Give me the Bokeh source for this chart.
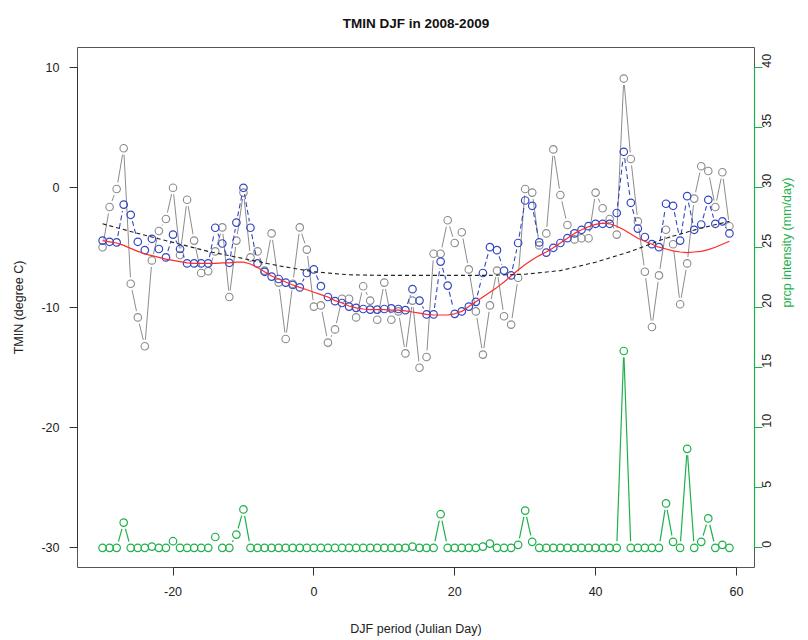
import math
import numpy as np
from bokeh.plotting import figure
from bokeh.models import Range1d, LinearAxis, FixedTicker, ColumnDataSource, PrintfTickFormatter
from bokeh.embed import file_html
from bokeh.resources import INLINE

# ---------------- data ----------------
days = list(range(-30, 60))

tmin_obs = [-4.95, -1.6, -0.1, 3.3, -8.0, -10.8, -13.2, -6.05, -3.6, -2.6,
            0.0, -5.6, -1.0, -4.4, -7.1, -6.95, -5.3, -3.3, -9.1, -4.4,
            -0.4, -5.8, -5.3, -6.9, -3.8, -7.9, -12.6, -8.0, -3.3, -5.15,
            -9.9, -9.8, -12.9, -11.8, -9.25, -9.25, -10.8, -8.2, -9.4, -11.0,
            -7.9, -11.0, -10.3, -13.8, -9.4, -15.0, -14.1, -5.5, -5.5, -2.7,
            -4.6, -3.7, -6.8, -10.3, -13.9, -9.8, -6.9, -10.7, -11.4, -7.5,
            -0.1, -0.4, -4.8, -3.8, 3.2, -0.6, -3.1, -4.3, -4.2, -4.2,
            -0.4, -1.7, -2.6, -3.9, 9.1, 2.4, -2.8, -7.0, -11.6, -7.3,
            -3.5, -4.7, -9.7, -6.3, -0.9, 1.8, 1.4, -1.6, 1.3, -3.2]

tmin_adj = [-4.4, -4.5, -4.55, -1.4, -2.25, -4.5, -5.2, -4.25, -5.1, -5.8,
            -3.9, -5.1, -6.3, -6.3, -6.3, -6.3, -3.33, -4.64, -6.25, -2.9,
            0.0, -3.33, -6.3, -7.0, -7.4, -7.6, -7.9, -8.1, -8.3, -7.1,
            -6.8, -8.2, -9.1, -9.45, -9.6, -9.9, -10.0, -10.1, -10.15, -10.15,
            -10.1, -10.05, -10.1, -10.2, -8.45, -9.4, -10.55, -10.55, -6.15, -8.15,
            -10.5, -10.3, -9.9, -9.5, -7.1, -4.95, -5.2, -6.9, -7.3, -4.6,
            -1.06, -1.5, -4.55, -5.4, -5.0, -4.6, -4.2, -3.8, -3.5, -3.2,
            -3.0, -3.0, -3.0, -2.1, 3.0, -1.25, -3.4, -4.1, -4.7, -4.95,
            -1.33, -1.5, -4.4, -0.7, -3.5, -3.06, -1.0, -3.0, -2.8, -3.8]

tmin_smooth = [-4.4, -4.5, -4.6, -4.8, -5.05, -5.3, -5.5, -5.65, -5.8, -5.95,
               -6.05, -6.15, -6.25, -6.3, -6.3, -6.3, -6.3, -6.25, -6.25, -6.2,
               -6.2, -6.35, -6.65, -7.0, -7.35, -7.6, -7.85, -8.1, -8.3, -8.5,
               -8.7, -8.9, -9.1, -9.4, -9.6, -9.85, -10.0, -10.1, -10.15, -10.15,
               -10.15, -10.2, -10.2, -10.25, -10.35, -10.45, -10.55, -10.6, -10.6, -10.6,
               -10.5, -10.3, -9.9, -9.5, -9.1, -8.7, -8.3, -7.85, -7.35, -6.85,
               -6.4, -6.0, -5.65, -5.35, -5.0, -4.6, -4.2, -3.8, -3.5, -3.25,
               -3.05, -2.95, -3.0, -3.2, -3.5, -3.85, -4.2, -4.45, -4.7, -4.95,
               -5.1, -5.25, -5.35, -5.4, -5.35, -5.3, -5.15, -4.95, -4.7, -4.45]

clim_days = [-30, -25, -20, -15, -10, -5, 0, 5, 10, 15, 20, 25, 30, 35, 40, 45, 50, 55, 59]
tmin_clim = [-3.0, -3.8, -4.55, -5.3, -5.9, -6.5, -7.0, -7.25, -7.3, -7.3,
             -7.3, -7.3, -7.2, -6.9, -6.2, -5.3, -4.2, -3.35, -2.8]

prcp = [0, 0, 0, 2.1, 0, 0, 0, 0.1, 0, 0,
        0.55, 0, 0, 0, 0, 0, 0.9, 0, 0, 1.1,
        3.2, 0, 0, 0, 0, 0, 0, 0, 0, 0,
        0, 0, 0, 0, 0, 0, 0, 0, 0, 0,
        0, 0, 0, 0, 0.1, 0, 0, 0, 2.8, 0,
        0, 0, 0, 0, 0.1, 0.35, 0, 0, 0, 0.25,
        3.1, 0.5, 0, 0, 0, 0, 0, 0, 0, 0,
        0, 0, 0, 0, 16.4, 0, 0, 0, 0, 0,
        3.7, 0.5, 0, 8.25, 0, 0.5, 2.45, 0, 0.25, 0]

x_ticks = [-20, 0, 20, 40, 60]
y_ticks = [-30, -20, -10, 0, 10]
p_ticks = [0, 5, 10, 15, 20, 25, 30, 35, 40]

# ---------------- layout / style ----------------
W, H = 808, 640
BL, BR, BT, BB = 77, 54, 47, 73
FW, FH = W - BL - BR, H - BT - BB
X0, X1 = -33.56, 62.56
Y0, Y1 = -31.64, 11.69
POFF = 30.0  # prcp axis offset

FONT = "Liberation Sans"
GRAY = "#8c8c8c"
BLUE = "#3347c4"
RED = "#ff2a2a"
GREEN = "#1fb04c"
DARK = "#333333"

p = figure(width=W, height=H, x_range=Range1d(X0, X1), y_range=Range1d(Y0, Y1),
           output_backend="svg", toolbar_location=None,
           min_border_left=BL, min_border_right=BR, min_border_top=BT, min_border_bottom=BB)
p.extra_y_ranges = {"prcp": Range1d(Y0 + POFF, Y1 + POFF)}
p.background_fill_color = "white"
p.border_fill_color = "white"
p.outline_line_color = "#555555"
p.outline_line_width = 1
p.xgrid.visible = False
p.ygrid.visible = False

p.title.text = "TMIN DJF in 2008-2009"
p.title.align = "center"
p.title.vertical_align = "top"
p.title.text_font = FONT
p.title.text_font_size = "13.5px"
p.title.text_font_style = "bold"
p.title.text_color = "#111111"
p.title.standoff = 29


def gapped(xs, ys, gap=6.5):
    xs = np.asarray(xs, float)
    ys = np.asarray(ys, float)
    sx = FW / (X1 - X0)
    sy = FH / (Y1 - Y0)
    dx = (xs[1:] - xs[:-1]) * sx
    dy = (ys[1:] - ys[:-1]) * sy
    d = np.hypot(dx, dy)
    keep = d > 2 * gap
    f = np.where(d > 0, gap / np.where(d > 0, d, 1), 0)
    xa = xs[:-1] + f * (xs[1:] - xs[:-1])
    ya = ys[:-1] + f * (ys[1:] - ys[:-1])
    xb = xs[1:] - f * (xs[1:] - xs[:-1])
    yb = ys[1:] - f * (ys[1:] - ys[:-1])
    return dict(x0=xa[keep], y0=ya[keep], x1=xb[keep], y1=yb[keep])


# observed TMIN (gray, type b)
p.segment("x0", "y0", "x1", "y1", source=ColumnDataSource(gapped(days, tmin_obs)),
          line_color=GRAY, line_width=1.0)
p.scatter(days, tmin_obs, marker="circle", size=7.5, fill_color=None, line_color=GRAY, line_width=1.1)

# adjusted series (blue, dashed type b)
p.segment("x0", "y0", "x1", "y1", source=ColumnDataSource(gapped(days, tmin_adj)),
          line_color=BLUE, line_width=1.1, line_dash="5 3")
p.scatter(days, tmin_adj, marker="circle", size=7.5, fill_color=None, line_color=BLUE, line_width=1.2)

# smooth curve (red)
p.line(days, tmin_smooth, line_color=RED, line_width=1.2)
# climatology (black dashed)
p.line(clim_days, tmin_clim, line_color="#222222", line_width=1.1, line_dash="4 3")

# precipitation (green, right axis)
gp = gapped(days, [v - POFF for v in prcp])
p.segment("x0", "y0", "x1", "y1", source=ColumnDataSource(dict(
    x0=gp["x0"], y0=gp["y0"] + POFF, x1=gp["x1"], y1=gp["y1"] + POFF)),
    line_color=GREEN, line_width=1.2, y_range_name="prcp")
p.scatter(days, prcp, marker="circle", size=7.5, fill_color=None, line_color=GREEN,
          line_width=1.2, y_range_name="prcp")

# axes
for ax in (p.xaxis[0], p.yaxis[0]):
    ax.axis_line_color = DARK
    ax.major_tick_line_color = DARK
    ax.minor_tick_line_color = None
    ax.major_tick_in = 0
    ax.major_tick_out = 8
    ax.major_label_text_font = FONT
    ax.major_label_text_font_size = "12.5px"
    ax.major_label_text_color = "#222222"
    ax.axis_label_text_font = FONT
    ax.axis_label_text_font_size = "12.5px"
    ax.axis_label_text_font_style = "normal"
    ax.axis_label_text_color = "#222222"
    ax.formatter = PrintfTickFormatter(format="%d")

p.xaxis[0].ticker = FixedTicker(ticks=x_ticks)
p.xaxis[0].bounds = (x_ticks[0], x_ticks[-1])
p.xaxis[0].axis_label = "DJF period (Julian Day)"
p.xaxis[0].major_label_standoff = 11
p.xaxis[0].axis_label_standoff = 23

p.yaxis[0].ticker = FixedTicker(ticks=y_ticks)
p.yaxis[0].bounds = (y_ticks[0], y_ticks[-1])
p.yaxis[0].axis_label = "TMIN (degree C)"
p.yaxis[0].major_label_standoff = 10
p.yaxis[0].axis_label_standoff = 12

ax_r = LinearAxis(y_range_name="prcp", ticker=FixedTicker(ticks=p_ticks), bounds=(p_ticks[0], p_ticks[-1]),
                  axis_label="prcp intensity (mm/day)")
ax_r.axis_line_color = GREEN
ax_r.axis_line_width = 1.2
ax_r.major_tick_line_color = GREEN
ax_r.minor_tick_line_color = None
ax_r.major_tick_in = 0
ax_r.major_tick_out = 8
ax_r.major_label_orientation = math.pi / 2
ax_r.major_label_text_font = FONT
ax_r.major_label_text_font_size = "12.5px"
ax_r.major_label_text_color = "#222222"
ax_r.major_label_standoff = 4
ax_r.formatter = PrintfTickFormatter(format="%d")
ax_r.axis_label_orientation = math.pi / 2
ax_r.axis_label_text_font = FONT
ax_r.axis_label_text_font_size = "12.5px"
ax_r.axis_label_text_font_style = "normal"
ax_r.axis_label_text_color = GREEN
ax_r.axis_label_standoff = 8
p.add_layout(ax_r, "right")

open("out.html", "w").write(file_html(p, INLINE))
